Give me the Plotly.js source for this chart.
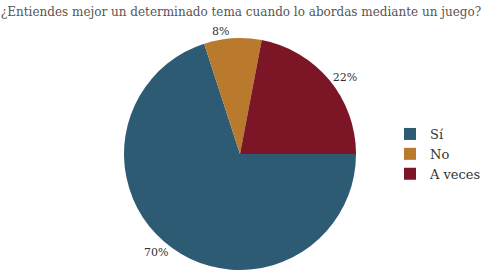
<!DOCTYPE html>
<html>
<head>
<meta charset="utf-8">
<script src="https://cdn.plot.ly/plotly-3.0.1.min.js"></script>
<style>html,body{margin:0;padding:0;background:#fff;}#chart{width:482px;height:279px;}</style>
</head>
<body>
<div id="chart"></div>
<script>
const categories = ["Sí", "No", "A veces"];
const values = [70, 8, 22];
const colors = ["#2e5b74", "#b97a2e", "#7c1526"];
const titleText = "¿Entiendes mejor un determinado tema cuando lo abordas mediante un juego?";

const W = 482, H = 279;
const serif = "DejaVu Serif";
const data = [{
  type: "pie",
  labels: categories,
  values: values,
  sort: false,
  direction: "clockwise",
  rotation: 90,
  marker: {colors: colors, line: {width: 0}},
  textinfo: "percent",
  textposition: "outside",
  texttemplate: "%{percent:.0%}",
  textfont: {family: serif, size: 11, color: "#333"},
  hoverinfo: "none",
  automargin: false,
  domain: {x: [124 / W, 356 / W], y: [1 - 270 / H, 1 - 38 / H]}
}];
const layout = {
  width: W, height: H,
  margin: {l: 0, r: 0, t: 0, b: 0, autoexpand: false},
  paper_bgcolor: "#fff",
  font: {family: serif},
  title: {text: titleText, x: 0.5, xanchor: "center", y: 1 - 12 / H, yanchor: "middle",
          font: {family: serif, size: 12, color: "#555"}},
  showlegend: true,
  legend: {x: 390 / W, y: 1 - 119 / H, xanchor: "left", yanchor: "top",
           font: {family: serif, size: 13, color: "#333"},
           tracegroupgap: 0, itemwidth: 30}
};
Plotly.newPlot("chart", data, layout, {displayModeBar: false, staticPlot: true});
</script>
</body>
</html>
